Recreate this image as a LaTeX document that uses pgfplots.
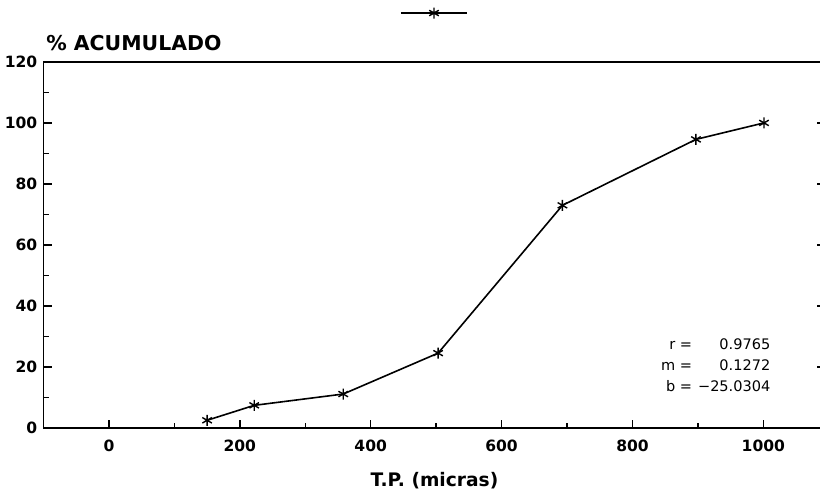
\documentclass[border=0pt]{standalone}
\usepackage{fontspec}
\setmainfont{DejaVu Sans}
\usepackage{pgfplots}
\pgfplotsset{compat=1.18}
\begin{document}
\begin{tikzpicture}
\begin{axis}[
 name=ax,
 scale only axis,
 width=780.3pt, height=365.6pt,
 xmin=-100, xmax=1095, ymin=0, ymax=120,
 xtick={0,200,...,1000}, ytick={0,20,...,120},
 minor xtick={100,300,500,700,900}, minor ytick={10,30,...,110},
 xtick pos=left, ytick pos=both, yticklabel pos=left,
 tick align=inside,
 major tick length=8.5pt, minor tick length=5pt,
 every tick/.append style={black, line width=1.4pt},
 axis line style={line width=1.9pt},
 /pgf/number format/assume math mode=true,
 /pgf/number format/1000 sep={},
 ticklabel style={font=\fontsize{15.5}{16}\selectfont\bfseries, inner sep=0pt},
 xticklabel style={anchor=north, yshift=-12pt},
 yticklabel style={anchor=east, xshift=-6pt},
 title={\% ACUMULADO},
 every axis title/.style={at={(axis description cs:0,1)}, anchor=base west, inner sep=0pt, xshift=2.6pt, yshift=11.7pt, font=\fontsize{20.4}{22}\selectfont\bfseries},
 xlabel={T.P. (micras)},
 every axis x label/.style={at={(axis description cs:0.5,0)}, anchor=base, inner sep=0pt, yshift=-57.7pt, font=\fontsize{18.6}{20}\selectfont\bfseries},
 legend style={at={(axis description cs:0.5,1)}, anchor=center, yshift=48.7pt, draw=none, fill=none, inner sep=0pt, nodes={inner sep=0pt, text depth=0pt}},
 legend image code/.code={\draw[mark repeat=2,mark phase=2,#1] plot coordinates {(0pt,0pt) (33pt,0pt) (66pt,0pt)};},
]
\addplot[black, line width=1.6pt, mark=asterisk, mark size=5.5pt, mark options={line width=1.4pt}] coordinates {
 (150,2.6) (222,7.5) (358,11.2) (503,24.6) (693,73.0) (897,94.6) (1001,100.0)
};
\addlegendentry{}
\node[anchor=east, inner sep=0pt, font=\fontsize{14.5}{21.2}\selectfont] at (axis cs:1011,20.35) {\begin{tabular}{@{}r@{\hspace{6pt}}r@{}} r = & 0.9765\\ m = & 0.1272\\ b = & −25.0304\end{tabular}};
\end{axis}
\pgfresetboundingbox
\path[use as bounding box] ([shift={(-43.4pt,-62.7pt)}]ax.south west) rectangle ([shift={(-5.5pt,61.7pt)}]ax.north east);
\end{tikzpicture}
\end{document}
